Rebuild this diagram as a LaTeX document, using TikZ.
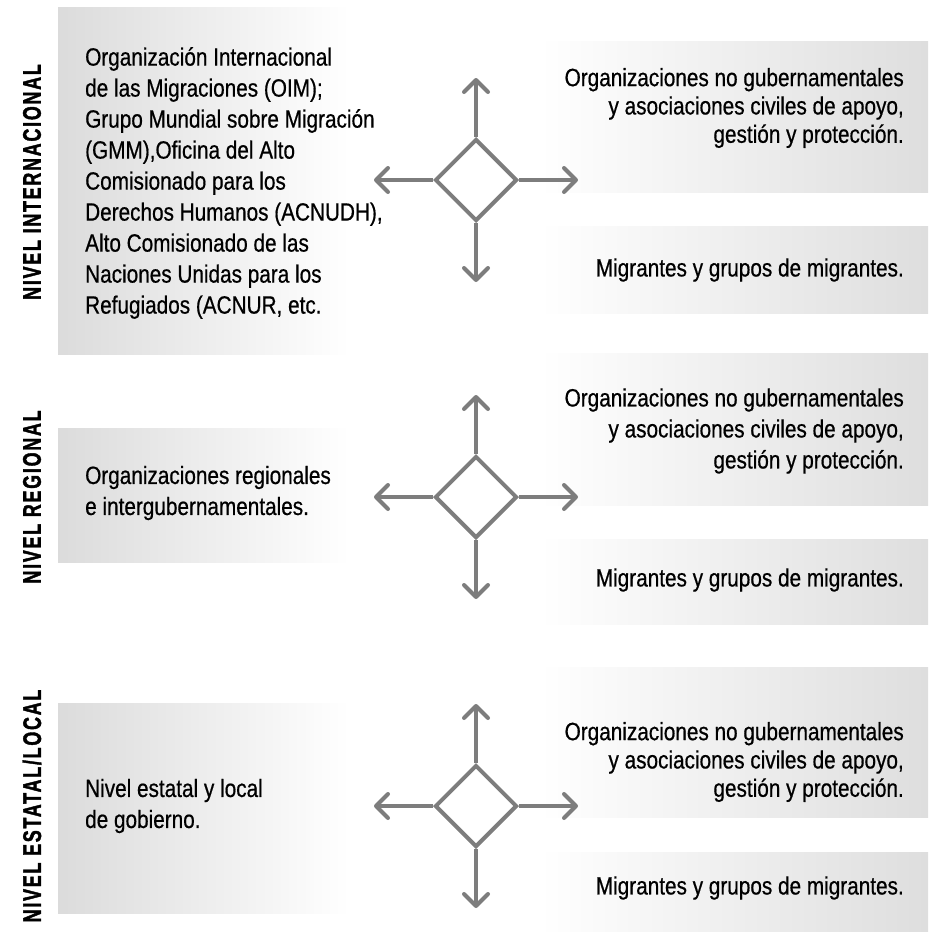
\documentclass[tikz,border=0pt]{standalone}
\usepackage{fontspec}
\setmainfont{Liberation Sans}[FakeStretch=0.83,FakeBold=0.6]
\newfontfamily\levelfont{Liberation Sans}[FakeStretch=0.7,LetterSpace=7,FakeBold=1.5]
\usetikzlibrary{arrows.meta,shapes.geometric,positioning}
\definecolor{crossgray}{RGB}{125,125,125}

\begin{document}
\begin{tikzpicture}[x=1pt,y=-1pt,
  hub/.style={shape=diamond,draw=crossgray,line width=4pt,fill=white,minimum width=82pt,minimum height=82pt,inner sep=0pt},
  link/.style={draw=crossgray,line width=4pt,-{Straight Barb[length=12pt,width=24pt,round]}},
  leftbox/.style={left color=black!14,right color=white},
  rightbox/.style={left color=white,right color=black!13},
  level/.style={rotate=90,inner sep=0pt,font=\levelfont\bfseries\fontsize{25.5}{25.5}\selectfont},
  actor/.style={align=left,anchor=west,inner sep=0pt,font=\fontsize{25}{31}\selectfont},
  support/.style={align=right,anchor=east,inner sep=0pt,font=\fontsize{25}{28.3}\selectfont}]
\useasboundingbox (0,0) rectangle (932,932);

\shade[leftbox] (58,7) rectangle (350,354);
\shade[leftbox] (58,428) rectangle (350,562);
\shade[leftbox] (58,703) rectangle (350,913);
\shade[rightbox] (540,41) rectangle (928,192);
\shade[rightbox] (540,226) rectangle (928,313);
\shade[rightbox] (540,353) rectangle (928,505);
\shade[rightbox] (540,539) rectangle (928,624);
\shade[rightbox] (540,667) rectangle (928,817);
\shade[rightbox] (540,852) rectangle (928,932);

\node[level] (lvl-int) at (32,182) {NIVEL INTERNACIONAL};
\node[level] (lvl-reg) at (32,497) {NIVEL REGIONAL};
\node[level] (lvl-loc) at (32,806) {NIVEL ESTATAL/LOCAL};

\node[actor] (int) at (85,183) {Organización Internacional\\de las Migraciones (OIM);\\Grupo Mundial sobre Migración\\(GMM),Oficina del Alto\\Comisionado para los\\Derechos Humanos (ACNUDH),\\Alto Comisionado de las\\Naciones Unidas para los\\Refugiados (ACNUR, etc.};
\node[actor] (reg) at (85,493) {Organizaciones regionales\\e intergubernamentales.};
\node[actor] (loc) at (85,806) {Nivel estatal y local\\de gobierno.};

\node[support] (ong-1) at (904,108) {Organizaciones no gubernamentales\\y asociaciones civiles de apoyo,\\gestión y protección.};
\node[support] (mig-1) at (904,270) {Migrantes y grupos de migrantes.};
\node[support,font=\fontsize{25}{31}\selectfont] (ong-2) at (904,431) {Organizaciones no gubernamentales\\y asociaciones civiles de apoyo,\\gestión y protección.};
\node[support] (mig-2) at (904,580) {Migrantes y grupos de migrantes.};
\node[support] (ong-3) at (904,762) {Organizaciones no gubernamentales\\y asociaciones civiles de apoyo,\\gestión y protección.};
\node[support] (mig-3) at (904,888) {Migrantes y grupos de migrantes.};

\node[hub] (hub-1) at (476,180) {};
\node[hub] (hub-2) at (476,497) {};
\node[hub] (hub-3) at (476,806) {};

\coordinate[above=59pt of hub-1] (hub-1-up);
\coordinate[below=59pt of hub-1] (hub-1-down);
\coordinate[left=59pt of hub-1] (hub-1-left);
\coordinate[right=59pt of hub-1] (hub-1-right);
\coordinate[above=59pt of hub-2] (hub-2-up);
\coordinate[below=59pt of hub-2] (hub-2-down);
\coordinate[left=59pt of hub-2] (hub-2-left);
\coordinate[right=59pt of hub-2] (hub-2-right);
\coordinate[above=59pt of hub-3] (hub-3-up);
\coordinate[below=59pt of hub-3] (hub-3-down);
\coordinate[left=59pt of hub-3] (hub-3-left);
\coordinate[right=59pt of hub-3] (hub-3-right);

\draw[link] (hub-1.north) -- (hub-1-up);
\draw[link] (hub-1.south) -- (hub-1-down);
\draw[link] (hub-1.west) -- (hub-1-left);
\draw[link] (hub-1.east) -- (hub-1-right);
\draw[link] (hub-2.north) -- (hub-2-up);
\draw[link] (hub-2.south) -- (hub-2-down);
\draw[link] (hub-2.west) -- (hub-2-left);
\draw[link] (hub-2.east) -- (hub-2-right);
\draw[link] (hub-3.north) -- (hub-3-up);
\draw[link] (hub-3.south) -- (hub-3-down);
\draw[link] (hub-3.west) -- (hub-3-left);
\draw[link] (hub-3.east) -- (hub-3-right);
\end{tikzpicture}
\end{document}
